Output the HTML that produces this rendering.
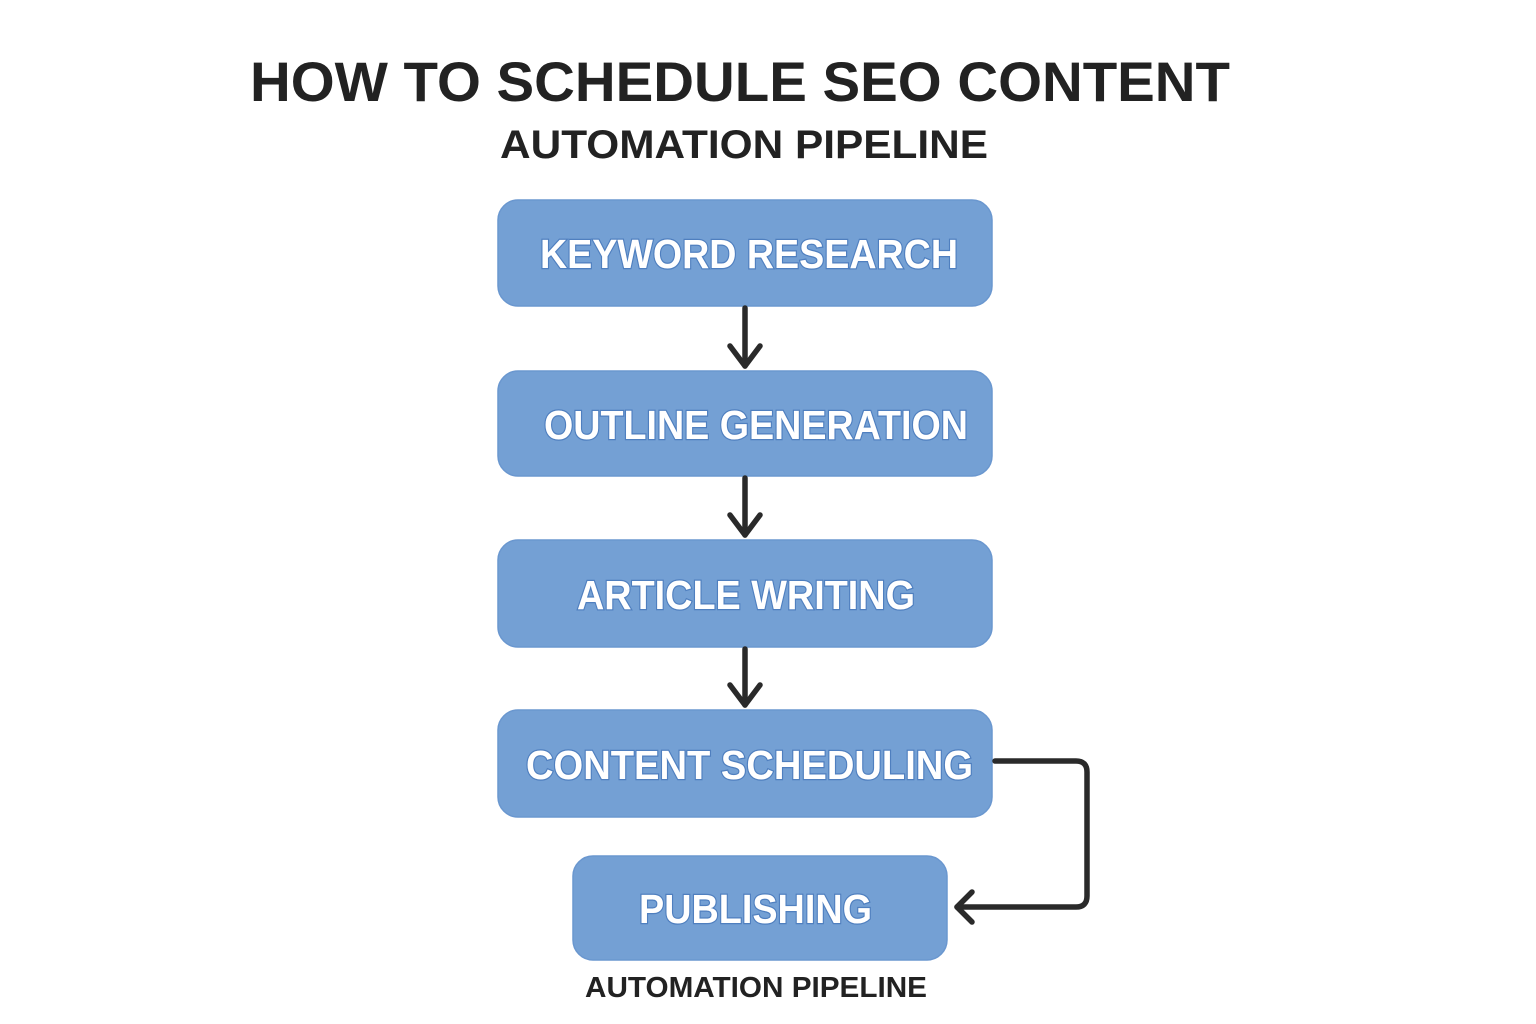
<!DOCTYPE html>
<html><head><meta charset="utf-8"><style>
html,body{margin:0;padding:0;background:#fff;}
svg{display:block;}
</style></head><body>
<svg width="1536" height="1024" viewBox="0 0 1536 1024" font-family="Liberation Sans, sans-serif" font-weight="bold">
<rect width="1536" height="1024" fill="#fff"/>
<text x="250" y="101" font-size="56" font-weight="bold" fill="#222" textLength="980" lengthAdjust="spacingAndGlyphs">HOW TO SCHEDULE SEO CONTENT</text>
<text x="500" y="158" font-size="40" font-weight="bold" fill="#222" textLength="488" lengthAdjust="spacingAndGlyphs">AUTOMATION PIPELINE</text>
<g fill="#74a0d4" stroke="#6a97cf" stroke-width="1.5">
<rect x="498" y="200" width="494" height="106" rx="20"/>
<rect x="498" y="371" width="494" height="105" rx="20"/>
<rect x="498" y="540" width="494" height="107" rx="20"/>
<rect x="498" y="710" width="494" height="107" rx="20"/>
<rect x="573" y="856" width="374" height="104" rx="20"/>
</g>
<g fill="#fff" stroke="#4f7fbf" stroke-width="2.5" paint-order="stroke" font-size="41" font-weight="bold">
<text x="540" y="268" textLength="418" lengthAdjust="spacingAndGlyphs">KEYWORD RESEARCH</text>
<text x="544" y="439" textLength="424" lengthAdjust="spacingAndGlyphs">OUTLINE GENERATION</text>
<text x="577" y="609" textLength="338" lengthAdjust="spacingAndGlyphs">ARTICLE WRITING</text>
<text x="526" y="779" textLength="447" lengthAdjust="spacingAndGlyphs">CONTENT SCHEDULING</text>
<text x="639" y="923" textLength="233" lengthAdjust="spacingAndGlyphs">PUBLISHING</text>
</g>
<g stroke="#2a2a2a" stroke-width="5.5" fill="none" stroke-linecap="round" stroke-linejoin="round">
<line x1="745" y1="308" x2="745" y2="366"/><polyline points="730,346 745,366 760,346"/>
<line x1="745" y1="478" x2="745" y2="535"/><polyline points="730,515 745,535 760,515"/>
<line x1="745" y1="649" x2="745" y2="705"/><polyline points="730,685 745,705 760,685"/>
<path d="M995 761 H1076 Q1087 761 1087 772 V896 Q1087 907 1076 907 H957"/>
<polyline points="972,892 957,907 972,922"/>
</g>
<text x="585" y="997" font-size="29" font-weight="bold" fill="#222" textLength="342" lengthAdjust="spacingAndGlyphs">AUTOMATION PIPELINE</text>
</svg>
</body></html>
